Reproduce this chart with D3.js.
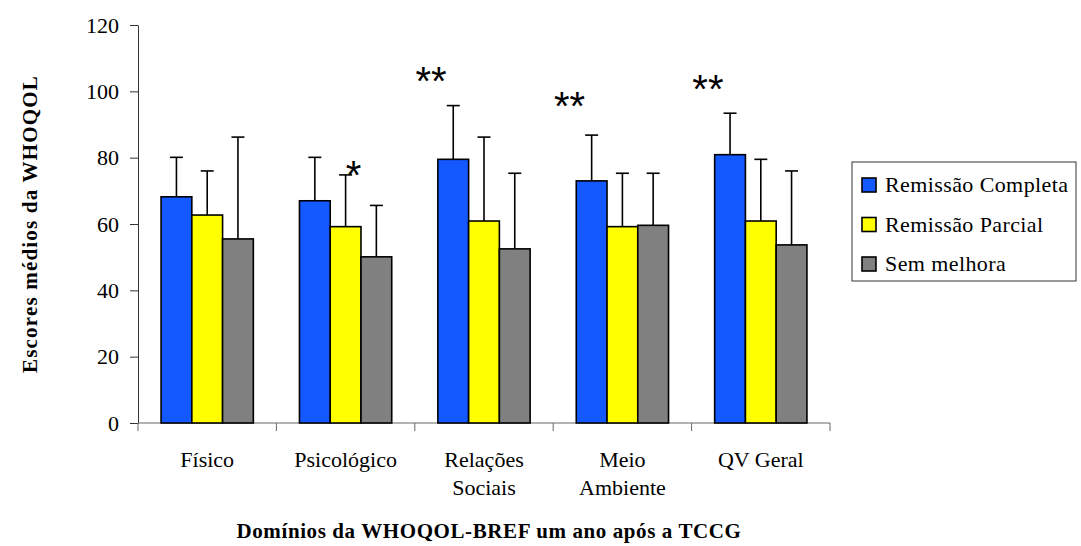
<!DOCTYPE html>
<html lang="pt">
<head>
    <meta charset="UTF-8">
    <title>WHOQOL-BREF</title>
    <script src="https://d3js.org/d3.v7.min.js"></script>
</head>
<style>
    body {
        margin: 0;
        background: #fff;
    }
    svg {
        display: block;
        font-family: "Liberation Serif", "Times New Roman", serif;
    }
</style>
<body>
<div class="chart"></div>
<script>
  /** data */
  var categories = ['Físico', 'Psicológico', 'Relações Sociais', 'Meio Ambiente', 'QV Geral'];
  var categoryLines = [['Físico'], ['Psicológico'], ['Relações', 'Sociais'], ['Meio', 'Ambiente'], ['QV Geral']];
  var seriesNames = ['Remissão Completa', 'Remissão Parcial', 'Sem melhora'];
  var remissaoCompleta = [68.2, 67.0, 79.5, 73.0, 80.9];
  var remissaoParcial = [62.7, 59.2, 60.9, 59.2, 60.9];
  var semMelhora = [55.5, 50.1, 52.5, 59.6, 53.7];
  // upper end of each error bar (mean + sd)
  var completaUpper = [80.1, 80.1, 95.7, 86.8, 93.4];
  var parcialUpper = [76.0, 74.8, 86.2, 75.3, 79.5];
  var semUpper = [86.2, 65.6, 75.3, 75.3, 76.0];
  var yTicks = [0, 20, 40, 60, 80, 100, 120];
  // significance marks: category, series they belong to, height in score units
  var marks = [
    { category: 'Psicológico', series: 1, value: 77.5, text: '*' },
    { category: 'Relações Sociais', series: 0, value: 105.9, text: '**' },
    { category: 'Meio Ambiente', series: 0, value: 98.4, text: '**' },
    { category: 'QV Geral', series: 0, value: 103.4, text: '**' }
  ];

  var colors = ['#1459ff', '#ffff00', '#808080'];
  var means = [remissaoCompleta, remissaoParcial, semMelhora];
  var uppers = [completaUpper, parcialUpper, semUpper];

  var width = 1081, height = 546;
  var plotLeft = 138, plotRight = 830, plotTop = 25, plotBottom = 423;

  var svg = d3.select('.chart').append('svg')
    .attr('width', width)
    .attr('height', height);

  var x = d3.scaleBand().domain(categories).range([plotLeft, plotRight]).padding(0);
  var xSeries = d3.scaleBand().domain(d3.range(seriesNames.length))
    .range([0, x.bandwidth()]).paddingInner(0).paddingOuter(0.75);
  var y = d3.scaleLinear().domain([0, 120]).range([plotBottom, plotTop]);

  /** y axis */
  var yAxis = svg.append('g')
    .attr('transform', 'translate(' + plotLeft + ',0)')
    .call(d3.axisLeft(y).tickValues(yTicks).tickSize(8).tickPadding(11).tickSizeOuter(0));
  yAxis.select('.domain').attr('stroke', '#333');
  yAxis.selectAll('.tick line').attr('stroke', '#333');
  yAxis.selectAll('text')
    .attr('font-family', '"Liberation Serif", serif')
    .attr('font-size', 22)
    .attr('fill', '#000');

  /** x axis: ticks sit between the categories */
  var xAxis = svg.append('g');
  xAxis.append('line')
    .attr('x1', plotLeft).attr('x2', plotRight)
    .attr('y1', plotBottom).attr('y2', plotBottom)
    .attr('stroke', '#666');
  xAxis.selectAll('.xtick')
    .data(categories.concat(['end']))
    .enter().append('line')
    .attr('x1', function (d) { return d === 'end' ? plotRight : x(d); })
    .attr('x2', function (d) { return d === 'end' ? plotRight : x(d); })
    .attr('y1', plotBottom).attr('y2', plotBottom + 8)
    .attr('stroke', '#666');

  var labels = xAxis.selectAll('.xlabel')
    .data(categories)
    .enter().append('text')
    .attr('text-anchor', 'middle')
    .attr('font-size', 22)
    .attr('x', function (d) { return x(d) + x.bandwidth() / 2; })
    .attr('y', 467);
  labels.each(function (d, i) {
    d3.select(this).selectAll('tspan')
      .data(categoryLines[i])
      .enter().append('tspan')
      .attr('x', x(d) + x.bandwidth() / 2)
      .attr('dy', function (_, j) { return j === 0 ? 0 : 28; })
      .text(function (t) { return t; });
  });

  /** bars */
  var groups = svg.selectAll('.group')
    .data(categories)
    .enter().append('g')
    .attr('transform', function (d) { return 'translate(' + x(d) + ',0)'; });

  groups.each(function (cat, ci) {
    var g = d3.select(this);
    seriesNames.forEach(function (s, si) {
      var bx = xSeries(si);
      var bw = xSeries.bandwidth();
      var v = means[si][ci];
      var up = uppers[si][ci];
      // error bar first so the bar outline covers its foot
      g.append('line')
        .attr('x1', bx + bw / 2).attr('x2', bx + bw / 2)
        .attr('y1', y(v)).attr('y2', y(up))
        .attr('stroke', '#000').attr('stroke-width', 1.6);
      g.append('line')
        .attr('x1', bx + bw / 2 - 6.5).attr('x2', bx + bw / 2 + 6.5)
        .attr('y1', y(up)).attr('y2', y(up))
        .attr('stroke', '#000').attr('stroke-width', 1.6);
      g.append('rect')
        .attr('x', bx)
        .attr('y', y(v))
        .attr('width', bw)
        .attr('height', y(0) - y(v))
        .attr('fill', colors[si])
        .attr('stroke', '#000')
        .attr('stroke-width', 1.6);
    });
  });

  /** significance asterisks */
  svg.selectAll('.mark')
    .data(marks)
    .enter().append('text')
    .attr('font-family', '"Liberation Sans", Arial, sans-serif')
    .attr('font-size', 40)
    .attr('text-anchor', 'middle')
    .attr('x', function (d) {
      var cx = x(d.category) + xSeries(d.series) + xSeries.bandwidth() / 2;
      return d.text === '**' ? cx - xSeries.bandwidth() * 0.72 : cx + xSeries.bandwidth() * 0.26;
    })
    .attr('y', function (d) { return y(d.value); })
    .attr('dy', '0.58em')
    .text(function (d) { return d.text; });

  /** legend */
  var legend = svg.append('g').attr('transform', 'translate(852,162)');
  legend.append('rect')
    .attr('width', 224).attr('height', 119)
    .attr('fill', '#fff').attr('stroke', '#333').attr('stroke-width', 1);
  var items = legend.selectAll('.item')
    .data(seriesNames)
    .enter().append('g')
    .attr('transform', function (_, i) { return 'translate(10,' + (23 + i * 39.5) + ')'; });
  items.append('rect')
    .attr('x', 0).attr('y', -7)
    .attr('width', 14).attr('height', 14)
    .attr('fill', function (_, i) { return colors[i]; })
    .attr('stroke', '#000').attr('stroke-width', 1.6);
  items.append('text')
    .attr('x', 23)
    .attr('dy', '0.33em')
    .attr('font-size', 22)
    .attr('letter-spacing', 0.4)
    .text(function (d) { return d; });

  /** axis titles */
  svg.append('text')
    .attr('transform', 'translate(37,' + ((plotTop + plotBottom) / 2) + ') rotate(-90)')
    .attr('text-anchor', 'middle')
    .attr('font-weight', 'bold')
    .attr('font-size', 21)
    .attr('letter-spacing', 1.2)
    .text('Escores médios da WHOQOL');

  svg.append('text')
    .attr('x', 489)
    .attr('y', 538)
    .attr('text-anchor', 'middle')
    .attr('font-weight', 'bold')
    .attr('font-size', 21)
    .attr('letter-spacing', 0.6)
    .text('Domínios da WHOQOL-BREF um ano após a TCCG');
</script>
</body>
</html>
